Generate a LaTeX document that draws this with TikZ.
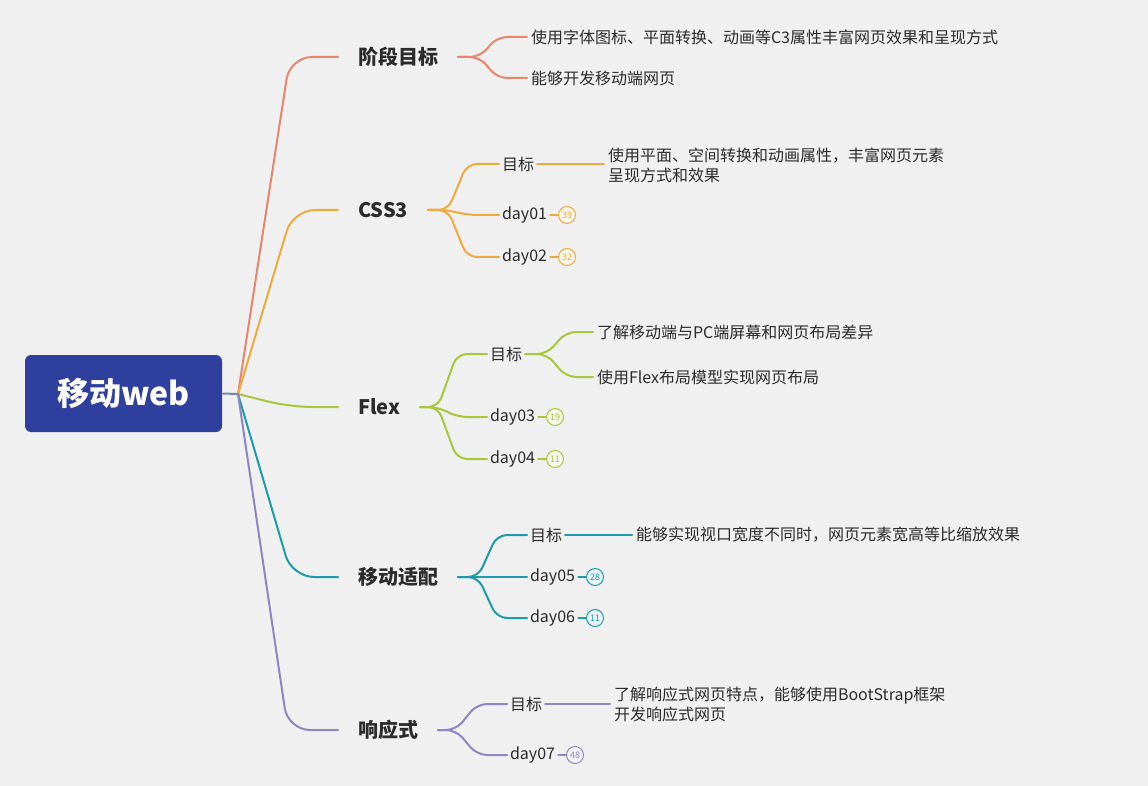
\documentclass[tikz,border=0pt]{standalone}
\usepackage{fontspec}
\setmainfont{Noto Sans CJK SC}
\usetikzlibrary{positioning}
\definecolor{bgc}{HTML}{F0F0F0}
\definecolor{rootc}{HTML}{2F3F9E}
\definecolor{linkc}{HTML}{7383B8}
\definecolor{txtc}{HTML}{2B2B2B}
\definecolor{ca}{HTML}{E8866C}
\definecolor{cb}{HTML}{F0AA3C}
\definecolor{cc}{HTML}{A9C63C}
\definecolor{cd}{HTML}{1F9AAA}
\definecolor{ce}{HTML}{8E86C2}

\begin{document}
\begin{tikzpicture}[x=1pt,y=-1pt,line width=2pt,line cap=round,text=txtc]
\tikzstyle{topic}=[anchor=west,inner sep=0pt,outer xsep=20pt,font=\fontsize{20}{24}\selectfont\bfseries]
\tikzstyle{sub}=[anchor=west,inner sep=0pt,outer xsep=3pt,font=\fontsize{16}{20}\selectfont]
\tikzstyle{leaf}=[anchor=west,inner sep=0pt,outer xsep=4pt,align=left,font=\fontsize{16}{20}\selectfont]
\tikzstyle{badge}=[circle,draw,line width=1pt,minimum size=17pt,inner sep=0pt,font=\fontsize{9}{9}\selectfont]
\tikzstyle{brm}=[rounded corners=22pt]
\tikzstyle{br}=[rounded corners=10pt]
\useasboundingbox (0,0) rectangle (1148,786);
\fill[bgc] (0,0) rectangle (1148,786);

% root
\node[fill=rootc,rounded corners=6pt,minimum width=197pt,minimum height=77pt,text=white,
  font=\fontsize{32}{36}\selectfont\bfseries] (web) at (123.5,393.5) {移动web};
\coordinate (h0) at (238,394);
\draw[linkc] (web.east) -- (h0);

% main topics
\node[topic] (goal) at (338,57) {阶段目标};
\node[topic] (css) at (338,210) {CSS3};
\node[topic] (flex) at (338,407) {Flex};
\node[topic] (fit) at (338,577) {移动适配};
\node[topic] (resp) at (338,730) {响应式};
\draw[ca,brm] (h0) -- ([xshift=-48pt]goal.west) -- (goal.west);
\draw[cb,brm] (h0) -- ([xshift=-45pt]css.west) -- (css.west);
\draw[cc,brm] (h0) -- ([xshift=-48pt]flex.west) -- (flex.west);
\draw[cd,brm] (h0) -- ([xshift=-46pt]fit.west) -- (fit.west);
\draw[ce,brm] (h0) -- ([xshift=-50pt]resp.west) -- (resp.west);

% 阶段目标
\coordinate (h1) at (480,57);
\node[leaf] (g1) at (527,37) {使用字体图标、平面转换、动画等C3属性丰富网页效果和呈现方式};
\node[leaf] (g2) at (527,78) {能够开发移动端网页};
\draw[ca,br] (goal.east) -- (h1) -- ([xshift=-30pt]g1.west) -- (g1.west);
\draw[ca,br] (goal.east) -- (h1) -- ([xshift=-30pt]g2.west) -- (g2.west);

% CSS3
\coordinate (h2) at (448,210);
\node[sub] (t2) at (499,164) {目标};
\node[sub] (d1) at (499,215) {day01};
\node[sub] (d2) at (499,257) {day02};
\draw[cb,br] (css.east) -- (h2) -- ([xshift=-32pt]t2.west) -- (t2.west);
\draw[cb,br] (css.east) -- (h2) -- ([xshift=-32pt]d1.west) -- (d1.west);
\draw[cb,br] (css.east) -- (h2) -- ([xshift=-32pt]d2.west) -- (d2.west);
\node[leaf] (l2) at (604,165) {使用平面、空间转换和动画属性，丰富网页元素\\呈现方式和效果};
\draw[cb] (t2.east) -- (t2.east -| l2.west);
\node[badge,draw=cb,fill=cb!10,text=cb,right=8pt of d1] (n1) {39};
\node[badge,draw=cb,fill=cb!10,text=cb,right=8pt of d2] (n2) {32};
\draw[cb,line width=1.2pt] (d1) -- (n1);
\draw[cb,line width=1.2pt] (d2) -- (n2);

% Flex
\coordinate (h3) at (438,407);
\node[sub] (t3) at (487,354) {目标};
\node[sub] (d3) at (487,417) {day03};
\node[sub] (d4) at (487,459) {day04};
\draw[cc,br] (flex.east) -- (h3) -- ([xshift=-30pt]t3.west) -- (t3.west);
\draw[cc,br] (flex.east) -- (h3) -- ([xshift=-30pt]d3.west) -- (d3.west);
\draw[cc,br] (flex.east) -- (h3) -- ([xshift=-30pt]d4.west) -- (d4.west);
\coordinate (h31) at (547,354);
\node[leaf] (f1) at (593,332) {了解移动端与PC端屏幕和网页布局差异};
\node[leaf] (f2) at (593,377) {使用Flex布局模型实现网页布局};
\draw[cc,br] (t3.east) -- (h31) -- ([xshift=-27pt]f1.west) -- (f1.west);
\draw[cc,br] (t3.east) -- (h31) -- ([xshift=-27pt]f2.west) -- (f2.west);
\node[badge,draw=cc,fill=cc!10,text=cc,right=8pt of d3] (n3) {19};
\node[badge,draw=cc,fill=cc!10,text=cc,right=8pt of d4] (n4) {11};
\draw[cc,line width=1.2pt] (d3) -- (n3);
\draw[cc,line width=1.2pt] (d4) -- (n4);

% 移动适配
\coordinate (h4) at (478,577);
\node[sub] (t4) at (527,535) {目标};
\node[sub] (d5) at (527,577) {day05};
\node[sub] (d6) at (527,618) {day06};
\draw[cd,br] (fit.east) -- (h4) -- ([xshift=-30pt]t4.west) -- (t4.west);
\draw[cd,br] (fit.east) -- (h4) -- (d5.west);
\draw[cd,br] (fit.east) -- (h4) -- ([xshift=-30pt]d6.west) -- (d6.west);
\node[leaf] (l4) at (632,535) {能够实现视口宽度不同时，网页元素宽高等比缩放效果};
\draw[cd] (t4.east) -- (l4.west);
\node[badge,draw=cd,fill=cd!10,text=cd,right=8pt of d5] (n5) {28};
\node[badge,draw=cd,fill=cd!10,text=cd,right=8pt of d6] (n6) {11};
\draw[cd,line width=1.2pt] (d5) -- (n5);
\draw[cd,line width=1.2pt] (d6) -- (n6);

% 响应式
\coordinate (h5) at (456,730);
\node[sub] (t5) at (507,704) {目标};
\node[sub] (d7) at (507,755) {day07};
\draw[ce,br] (resp.east) -- (h5) -- ([xshift=-30pt]t5.west) -- (t5.west);
\draw[ce,br] (resp.east) -- (h5) -- ([xshift=-30pt]d7.west) -- (d7.west);
\node[leaf] (l5) at (610,704) {了解响应式网页特点，能够使用BootStrap框架\\开发响应式网页};
\draw[ce] (t5.east) -- (l5.west);
\node[badge,draw=ce,fill=ce!10,text=ce,right=8pt of d7] (n7) {48};
\draw[ce,line width=1.2pt] (d7) -- (n7);
\end{tikzpicture}
\end{document}
